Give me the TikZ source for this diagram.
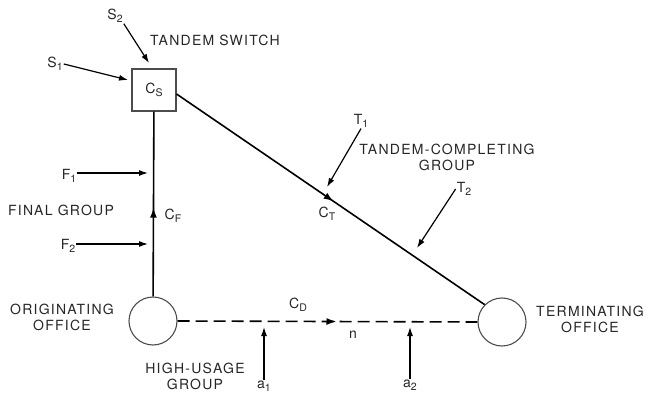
\documentclass[tikz,border=0pt]{standalone}
\usepackage{fontspec}
\setmainfont{TeX Gyre Heros}[LetterSpace=9]
\usetikzlibrary{arrows.meta,positioning,calc,decorations.markings}
\newcommand{\lsub}[1]{\raisebox{-0.35ex}{\fontsize{10.5}{11}\selectfont #1}}

\begin{document}
\begin{tikzpicture}[
  x=1pt, y=-1pt,
  font=\fontsize{14}{16}\selectfont,
  office/.style={draw=black!70, line width=1.1pt, circle, minimum size=48pt, inner sep=0pt},
  switchbox/.style={draw=black!70, line width=1.1pt, minimum width=44pt, minimum height=42pt,
    inner sep=0pt, text=black!85},
  trunk/.style={line width=1.6pt},
  feed/.style={-{Latex[length=9pt,width=6pt]}, line width=1.2pt},
  midarr/.style={postaction={decorate}, decoration={markings,
    mark=at position #1 with {\arrow{Latex[length=10pt,width=7pt]}}}},
  lbl/.style={text=black!85, inner sep=1pt},
  grp/.style={text=black!85, align=center, inner sep=1pt}
]
  \useasboundingbox (0,0) rectangle (650,395);

  % switch and offices
  \node[switchbox] (cs) at (154,90) {C\lsub{S}};
  \node[office] (orig) at (153,321) {};
  \node[office] (term) at (502,322) {};

  % groups
  \draw[trunk, midarr=0.48] (orig) -- (cs);
  \draw[trunk, midarr=0.51] ($(cs.east)+(0,4)$) -- (term.135);
  \draw[trunk, dash pattern=on 12pt off 6pt, midarr=0.53] (orig.east) -- (term.west);

  % texts
  \node[grp] (tsw) at (215,40) {TANDEM SWITCH};
  \node[grp] (fin) at (61,210) {FINAL GROUP};
  \node[grp] (tcg) at (447,157) {TANDEM-COMPLETING\\GROUP};
  \node[grp] (hug) at (195,376) {HIGH-USAGE\\GROUP};
  \node[grp] (ooff) at (62,317) {ORIGINATING\\OFFICE};
  \node[grp] (toff) at (590,319) {TERMINATING\\OFFICE};
  \node[lbl] (cf) at (173,216) {C\lsub{F}};
  \node[lbl] (ct) at (327,214) {C\lsub{T}};
  \node[lbl] (cd) at (298,305) {C\lsub{D}};
  \node[lbl] (nn) at (353,335) {n};

  % offered loads
  \node[lbl] (s1) at (55,64) {S\lsub{1}};
  \node[lbl] (s2) at (115,16) {S\lsub{2}};
  \node[lbl] (f1) at (69,176) {F\lsub{1}};
  \node[lbl] (f2) at (68,246) {F\lsub{2}};
  \node[lbl] (t1) at (361,121) {T\lsub{1}};
  \node[lbl] (t2) at (464,189) {T\lsub{2}};
  \node[lbl] (a1) at (264,386) {a\lsub{1}};
  \node[lbl] (a2) at (410,385) {a\lsub{2}};

  \coordinate (s1end) at (128,80);
  \coordinate (s2end) at (149,63);
  \coordinate (f1end) at (148,173);
  \coordinate (f2end) at (148,244);
  \coordinate (t1end) at (327,187);
  \coordinate (t2end) at (417,248);
  \coordinate (a1end) at (264,327);
  \coordinate (a2end) at (410,327);

  \draw[feed] (s1.east) -- (s1end);
  \draw[feed] (s2.south east) -- (s2end);
  \draw[feed] (f1end -| f1.east) -- (f1end);
  \draw[feed] (f2end -| f2.east) -- (f2end);
  \draw[feed] (t1.south) -- (t1end);
  \draw[feed] (t2.west) -- (t2end);
  \draw[feed] (a1.north) -- (a1end);
  \draw[feed] (a2.north) -- (a2end);
\end{tikzpicture}
\end{document}
